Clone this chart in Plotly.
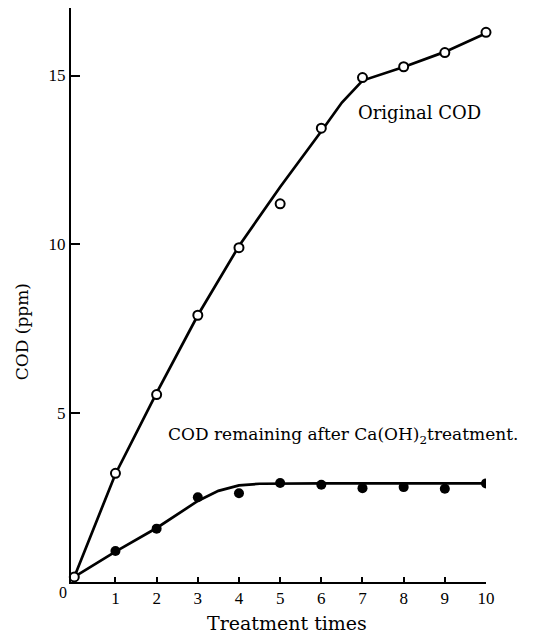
import plotly.graph_objects as go

# Measured data points
orig_x = [0, 1, 2, 3, 4, 5, 6, 7, 8, 9, 10]
orig_y = [0.15, 3.22, 5.55, 7.9, 9.9, 11.2, 13.44, 14.94, 15.26, 15.68, 16.28]

rem_x = [1, 2, 3, 4, 5, 6, 7, 8, 9, 10]
rem_y = [0.92, 1.58, 2.51, 2.63, 2.93, 2.88, 2.78, 2.81, 2.76, 2.92]

# Hand-drawn fitted curves
orig_fit_x = [0, 1, 2, 3, 4, 5, 6, 6.5, 7, 7.5, 8, 9, 10]
orig_fit_y = [0.15, 3.2, 5.6, 7.9, 9.95, 11.7, 13.35, 14.2, 14.85, 15.05, 15.25, 15.7, 16.25]

rem_fit_x = [0, 1, 2, 3, 3.5, 4, 4.5, 5, 6, 7, 8, 9, 10]
rem_fit_y = [0.15, 0.9, 1.6, 2.4, 2.7, 2.86, 2.91, 2.92, 2.92, 2.92, 2.92, 2.92, 2.92]

x_ticks = [1, 2, 3, 4, 5, 6, 7, 8, 9, 10]
y_ticks = [5, 10, 15]

FONT = "DejaVu Serif"
TFONT = "Liberation Serif"

fig = go.Figure()
fig.add_trace(go.Scatter(x=orig_fit_x, y=orig_fit_y, mode="lines",
                         line=dict(color="black", width=2.7), showlegend=False, hoverinfo="skip"))
fig.add_trace(go.Scatter(x=rem_fit_x, y=rem_fit_y, mode="lines",
                         line=dict(color="black", width=2.7), showlegend=False, hoverinfo="skip"))
fig.add_trace(go.Scatter(x=rem_x, y=rem_y, mode="markers",
                         marker=dict(symbol="circle", size=10, color="black"),
                         showlegend=False))
fig.add_trace(go.Scatter(x=orig_x, y=orig_y, mode="markers",
                         marker=dict(symbol="circle", size=9, color="white",
                                     line=dict(color="black", width=2)),
                         showlegend=False, cliponaxis=False))

fig.add_annotation(x=8.39, y=13.9, text="Original COD", showarrow=False,
                   xanchor="center", yanchor="middle",
                   font=dict(family=FONT, size=18, color="black"))
fig.add_annotation(x=6.52, y=4.35, text="COD remaining after Ca(OH)<sub>2</sub>treatment.",
                   showarrow=False, xanchor="center", yanchor="middle",
                   font=dict(family=FONT, size=17, color="black"))
fig.add_annotation(x=5.16, y=0, yref="paper", yshift=-41, text="Treatment times",
                   showarrow=False, xanchor="center", yanchor="middle",
                   font=dict(family=FONT, size=19, color="black"))
fig.add_annotation(x=0, xref="paper", xshift=-49, y=7.4, text="COD (ppm)", textangle=-90,
                   showarrow=False, xanchor="center", yanchor="middle",
                   font=dict(family=FONT, size=17, color="black"))
fig.add_annotation(x=0, xref="paper", xshift=-8, y=0, yref="paper", yshift=-10, text="0",
                   showarrow=False, xanchor="center", yanchor="middle",
                   font=dict(family=TFONT, size=16, color="black"))

fig.update_xaxes(range=[-0.08, 10], showline=True, linecolor="black", linewidth=2,
                 ticks="inside", ticklen=5, tickwidth=1.5, tickcolor="black",
                 tickvals=x_ticks, ticktext=[str(v) for v in x_ticks],
                 tickfont=dict(family=TFONT, size=17, color="black"),
                 showgrid=False, zeroline=False)
fig.update_yaxes(range=[0, 17.0], showline=True, linecolor="black", linewidth=2,
                 ticks="inside", ticklen=9, tickwidth=1.5, tickcolor="black",
                 tickvals=y_ticks, ticktext=[str(v) for v in y_ticks],
                 tickfont=dict(family=TFONT, size=17, color="black"),
                 showgrid=False, zeroline=False)

fig.update_layout(width=538, height=636, margin=dict(l=71, r=52, t=8, b=54),
                  plot_bgcolor="white", paper_bgcolor="white")

fig.write_html("out.html")
